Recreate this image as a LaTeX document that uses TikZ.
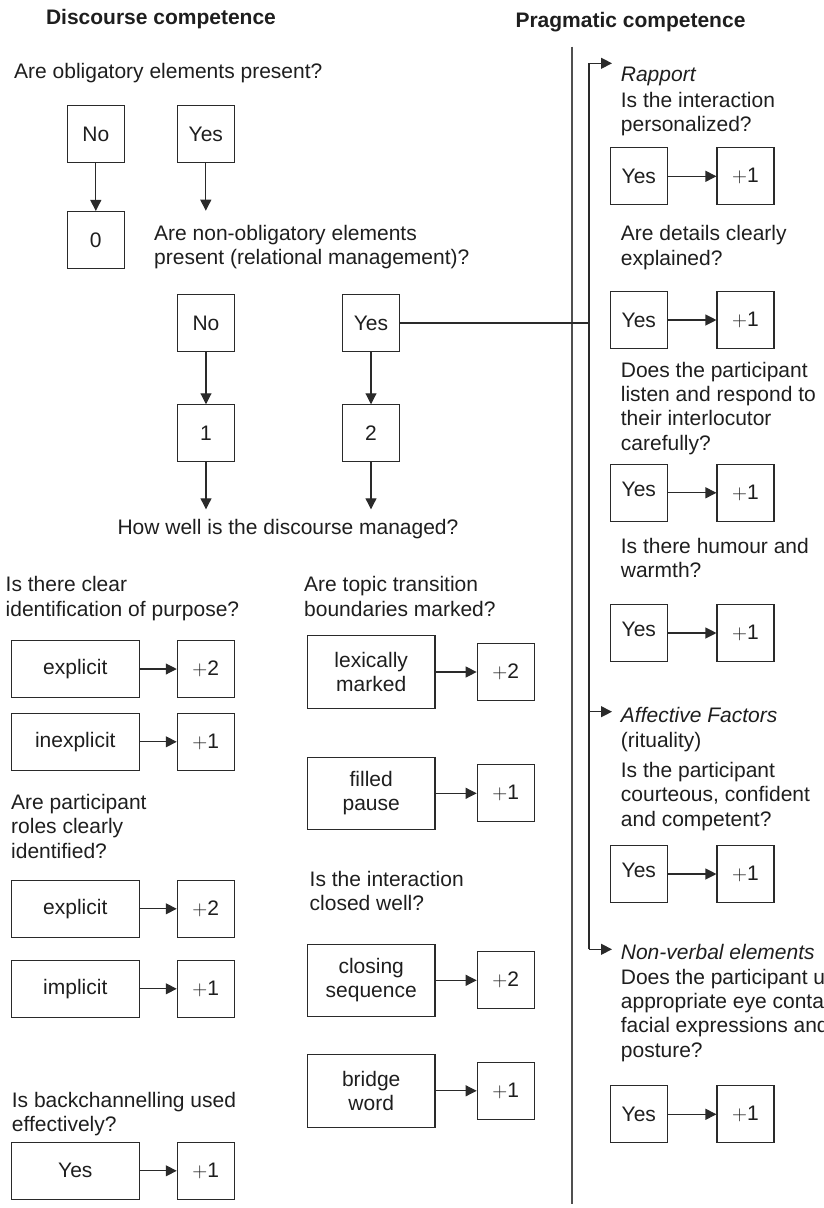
\documentclass[tikz,border=0pt]{standalone}
\usepackage{fontspec}
\setmainfont{Liberation Sans}
\usetikzlibrary{arrows.meta}
\definecolor{ink}{HTML}{1E1E1E}
\definecolor{rule}{HTML}{2A2A2A}
\definecolor{axisgray}{HTML}{505050}
% left-aligned block of lines whose baseline is that of its first line
\newcommand{\qlines}[1]{\vtop{\baselineskip=24.4pt\halign{##\hfil\cr#1\crcr}}}
\newcommand{\bodysize}{\fontsize{21}{24.4}\selectfont}
% label set a little above the middle of its box
\newcommand{\hiyes}{\raisebox{3.5pt}[\height][\depth]{Yes}}
\begin{document}
\begin{tikzpicture}[x=1pt,y=-1pt,
  every node/.style={font=\bodysize, text=ink, inner sep=0pt},
  box/.style={draw=rule, line width=1.1pt, minimum width=57pt, minimum height=57pt},
  widebox/.style={box, minimum width=127.5pt},
  tallbox/.style={box, minimum width=127.5pt, minimum height=72.5pt, align=center},
  q/.style={anchor=base west},
  ital/.style={anchor=base west, font=\bodysize\itshape},
  head/.style={anchor=base, font=\bodysize\bfseries},
  arr/.style={draw=rule, line width=1.1pt, -{Triangle[length=11pt,width=11pt]}},
  plain/.style={draw=rule, line width=1.1pt},
  axis/.style={draw=axisgray, line width=1.6pt}
]
\useasboundingbox (0,0) rectangle (823,1208);
\clip (0,0) rectangle (823,1208);

% ---------- headings ----------
\node[head] (tdisc) at (161,24) {Discourse competence};
\node[head] (tprag) at (630.5,27.3) {Pragmatic competence};

% ---------- obligatory / non-obligatory elements ----------
\node[q] (q1) at (14,78) {Are obligatory elements present?};
\node[box] (no1) at (95.8,134.3) {No};
\node[box] (yes1) at (205.8,134.3) {Yes};
\node[box] (zero) at (95.8,240) {0};
\coordinate (yes1end) at (205.8,210.7);
\node[q] (q2) at (154,240) {\qlines{Are non-obligatory elements\cr present (relational management)?}};
\node[box] (no2) at (206,323) {No};
\node[box] (yes2) at (371,323) {Yes};
\node[box] (one) at (206,433.3) {1};
\node[box] (two) at (371,433.3) {2};
\coordinate (oneend) at (206,509.3);
\coordinate (twoend) at (371,509.3);
\node[anchor=base] (q3) at (288,534) {How well is the discourse managed?};

\draw[arr] (no1) -- (zero);
\draw[arr] (yes1) -- (yes1end);
\draw[arr] (no2) -- (one);
\draw[arr] (yes2) -- (two);
\draw[arr] (one) -- (oneend);
\draw[arr] (two) -- (twoend);

% ---------- discourse management, left column ----------
\node[q] (q4) at (5.5,591.7) {\qlines{Is there clear\cr identification of purpose?}};
\node[widebox] (expl1) at (75.3,669) {explicit};
\node[box] (p2a) at (205.8,669) {\(+\)2};
\node[widebox] (inexpl) at (75.3,741.8) {inexplicit};
\node[box] (p1a) at (205.8,741.8) {\(+\)1};
\node[q] (q5) at (11,809.3) {\qlines{Are participant\cr roles clearly\cr identified?}};
\node[widebox] (expl2) at (75.3,908.8) {explicit};
\node[box] (p2b) at (205.8,908.8) {\(+\)2};
\node[widebox] (impl) at (75.3,988.8) {implicit};
\node[box] (p1b) at (205.8,988.8) {\(+\)1};
\node[q] (q6) at (11.7,1107.5) {\qlines{Is backchannelling used\cr effectively?}};
\node[widebox] (bcyes) at (75.3,1170.8) {Yes};
\node[box] (p1c) at (205.8,1170.8) {\(+\)1};

% ---------- discourse management, middle column ----------
\node[q] (q7) at (304,591.7) {\qlines{Are topic transition\cr boundaries marked?}};
\node[tallbox] (lex) at (371.2,672) {lexically\\marked};
\node[box] (p2c) at (505.7,672) {\(+\)2};
\node[tallbox] (fill) at (371.2,793.3) {filled\\pause};
\node[box] (p1d) at (505.7,793.3) {\(+\)1};
\node[q] (q8) at (309.5,886.5) {\qlines{Is the interaction\cr closed well?}};
\node[tallbox] (close) at (371.2,980.3) {closing\\sequence};
\node[box] (p2d) at (505.7,980.3) {\(+\)2};
\node[tallbox] (bridge) at (371.2,1090.8) {bridge\\word};
\node[box] (p1e) at (505.7,1090.8) {\(+\)1};

\foreach \a/\b in {expl1/p2a, inexpl/p1a, expl2/p2b, impl/p1b, bcyes/p1c,
                   lex/p2c, fill/p1d, close/p2d, bridge/p1e}
  \draw[arr] (\a) -- (\b);

% ---------- pragmatic competence ----------
\coordinate (vtop) at (572,46.7);
\coordinate (vbot) at (572,1204);
\draw[axis] (vtop) -- (vbot);

\node[ital] (rap) at (620.7,81) {Rapport};
\node[q] (r1) at (620.7,107.3) {\qlines{Is the interaction\cr personalized?}};
\node[box] (ry1) at (638.8,176.3) {Yes};
\node[box] (rp1) at (745.5,176.3) {\(+\)1};
\node[q] (r2) at (620.7,240.7) {\qlines{Are details clearly\cr explained?}};
\node[box] (ry2) at (638.8,320) {Yes};
\node[box] (rp2) at (745.5,320) {\(+\)1};
\node[q] (r3) at (620.7,377) {\qlines{Does the participant\cr listen and respond to\cr their interlocutor\cr carefully?}};
\node[box] (ry3) at (638.8,492.8) {\hiyes};
\node[box] (rp3) at (745.5,492.8) {\(+\)1};
\node[q] (r4) at (620.7,553) {\qlines{Is there humour and\cr warmth?}};
\node[box] (ry4) at (638.8,633) {\hiyes};
\node[box] (rp4) at (745.5,633) {\(+\)1};

\node[ital] (aff) at (620.7,722.7) {Affective Factors};
\node[q] (rit) at (620.7,747.3) {(rituality)};
\node[q] (r5) at (620.7,777.3) {\qlines{Is the participant\cr courteous, confident\cr and competent?}};
\node[box] (ry5) at (638.8,874) {\hiyes};
\node[box] (rp5) at (745.5,874) {\(+\)1};

\node[ital] (nonv) at (620.7,959.3) {Non-verbal elements};
\node[q] (r6) at (620.7,984) {\qlines{Does the participant use\cr appropriate eye contact,\cr facial expressions and\cr posture?}};
\node[box] (ry6) at (638.8,1114.3) {Yes};
\node[box] (rp6) at (745.5,1114.3) {\(+\)1};

\foreach \i in {1,...,6}
  \draw[arr] (ry\i) -- (rp\i);

% bracket feeding the three pragmatic headings
\coordinate (btop) at (589,63.3);
\coordinate (bbot) at (589,949.3);
\coordinate (hrap) at (612,63.3);
\coordinate (haff) at (612,711.7);
\coordinate (hnon) at (612,949.3);
\draw[plain] (yes2.east) -- (yes2.east -| btop);
\draw[arr] (bbot) -- (btop) -- (hrap);
\draw[arr] (bbot |- haff) -- (haff);
\draw[arr] (bbot) -- (hnon);
\end{tikzpicture}
\end{document}
